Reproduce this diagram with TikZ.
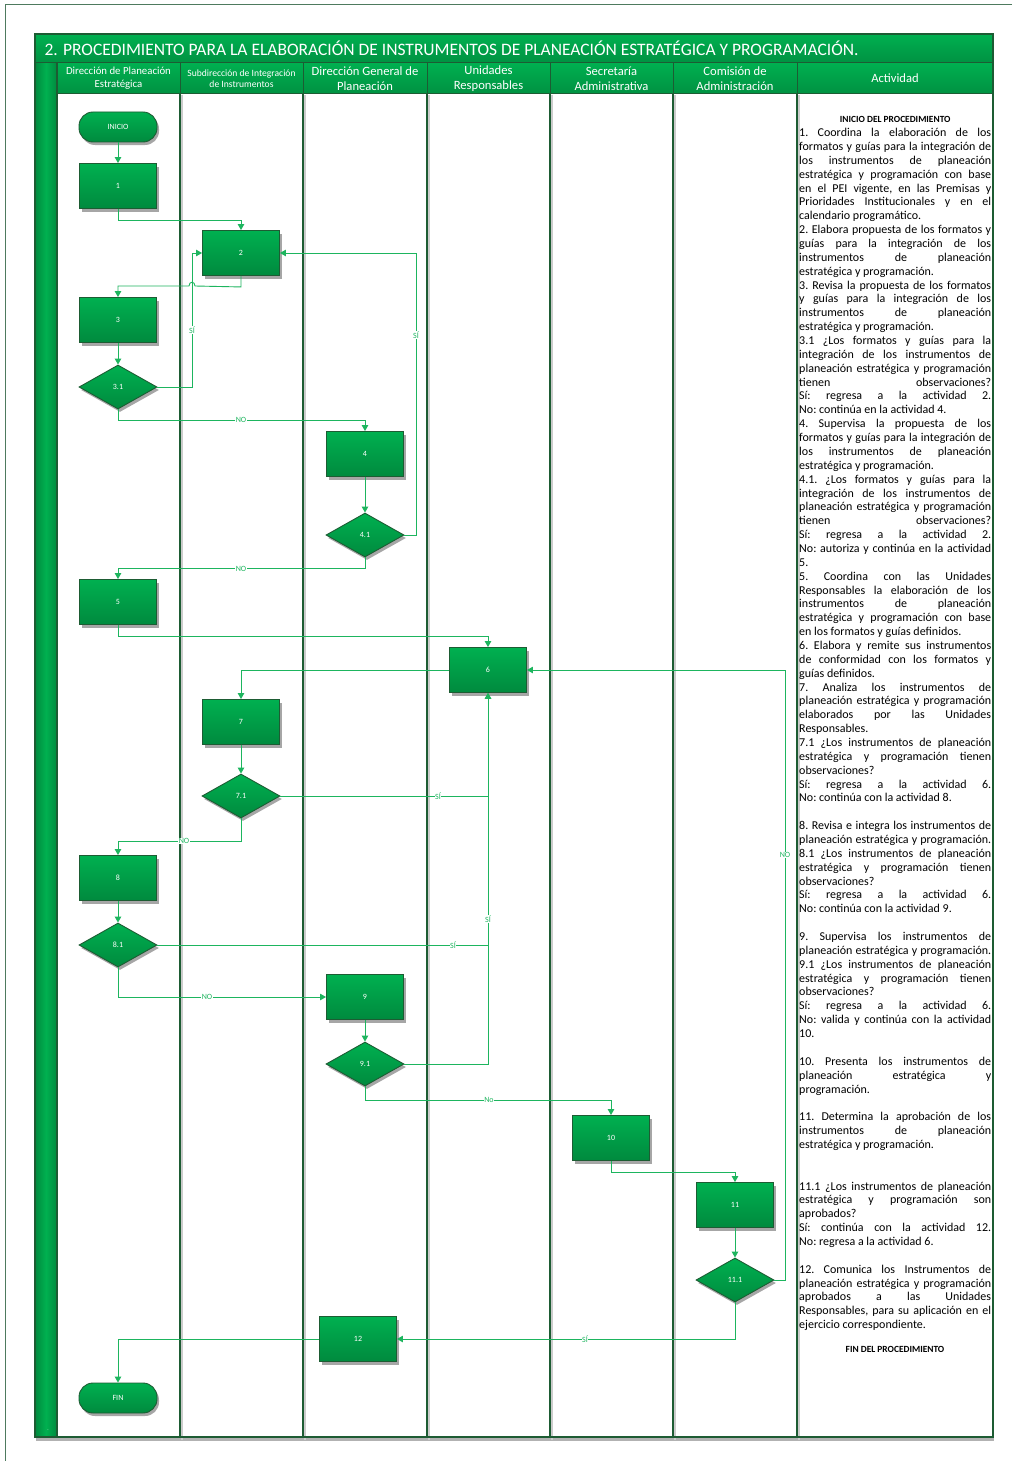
\documentclass[tikz,border=0pt]{standalone}
\usepackage{fontspec}
\usepackage{graphicx}
\setmainfont{Carlito}
\usetikzlibrary{arrows.meta,shapes.geometric,shadows,shadings,calc}
\definecolor{gfill}{HTML}{00B050}
\definecolor{gdark}{HTML}{008A3E}
\definecolor{gline}{HTML}{1D5C33}
\definecolor{gconn}{HTML}{1DB55E}
\definecolor{gframe}{HTML}{4E7A5E}
\newcommand\jl[1]{\hbox to 192pt{\frenchspacing\spaceskip=0.226em plus 1fill minus 0.07em\relax #1}}
\newcommand\rl[1]{\hbox{\frenchspacing #1}}
\tikzset{
  shp/.style={draw=gline, line width=0.9pt, top color=gfill, bottom color=gdark, text=white,
    inner sep=0pt, font=\fontsize{8}{8}\selectfont,
    drop shadow={shadow xshift=2pt, shadow yshift=-3pt, opacity=.35, fill=black}},
  actbox/.style={shp, rectangle, minimum width=77pt, minimum height=45pt},
  decbox/.style={shp, diamond, minimum width=78pt, minimum height=44pt},
  termbox/.style={shp, rectangle, rounded corners=14pt, minimum width=78pt, minimum height=30pt},
  flow/.style={draw=gconn, line width=0.9pt, -{Triangle[length=6pt,width=6.5pt]}},
  plainflow/.style={draw=gconn, line width=0.9pt},
  lbl/.style={fill=white, text=gconn, inner sep=0.6pt, font=\fontsize{8}{8}\selectfont},
  hdr/.style={top color=gfill, bottom color=gdark!80!gfill, draw=gline, line width=1pt},
  hdtext/.style={text=white, align=center},
  coll/.style={draw=gline, line width=1.5pt},
}
\begin{document}
\begin{tikzpicture}[x=1pt,y=-1pt]
\useasboundingbox (0,0) rectangle (1012,1461);
% page frame
\draw[gframe, line width=0.8pt] (1012,4) -- (5,4) -- (5,1461);
% table body
\path[fill=white, drop shadow={shadow xshift=1pt, shadow yshift=-4pt, opacity=.3, fill=black}] (35,34) rectangle (993,1437);
% title bar
\path[hdr] (35,34) rectangle (993,63);
\node[hdtext, anchor=west] (title) at (41,48.5) {\resizebox{814pt}{!}{\fontsize{16.5}{17}\selectfont 2. PROCEDIMIENTO PARA LA ELABORACIÓN DE INSTRUMENTOS DE PLANEACIÓN ESTRATÉGICA Y PROGRAMACIÓN.}};
% header cells
\foreach \xa/\xb in {57/180,180/303,303/427,427/550,550/673,673/797,797/993}
  \path[hdr] (\xa,63) rectangle (\xb,94);
% left bar
\path[left color=gdark, right color=gdark, middle color=gfill, draw=gline, line width=1pt] (35,63) rectangle (57,1437);
\node[text=white, font=\fontsize{4}{4}\selectfont] (dot) at (48,1431) {-};
% column lines
\foreach \xx in {180,303,427,550,673,797}
  \draw[black!20, line width=1.5pt] (\xx+2,95) -- (\xx+2,1440);
\foreach \xx in {180,303,427,550,673,797}
  \draw[coll] (\xx,94) -- (\xx,1437);
\draw[coll] (57,63) -- (57,1437);
\draw[coll] (35,34) rectangle (993,1437);
\draw[gline, line width=1pt] (57,94) -- (993,94);
% header texts
\node[hdtext, font=\fontsize{10.8}{13}\selectfont] (hd1) at (118.5,78) {Dirección de Planeación\\Estratégica};
\node[hdtext, font=\fontsize{9.6}{11}\selectfont] (hd2) at (241.5,78.5) {Subdirección de Integración\\de Instrumentos};
\node[hdtext, font=\fontsize{12.6}{15}\selectfont] (hd3) at (365,78.5) {Dirección General de\\Planeación};
\node[hdtext, font=\fontsize{12.6}{15}\selectfont] (hd4) at (488.5,78.5) {Unidades\\Responsables};
\node[hdtext, font=\fontsize{12.6}{15}\selectfont] (hd5) at (611.5,78.5) {Secretaría\\Administrativa};
\node[hdtext, font=\fontsize{12.6}{15}\selectfont] (hd6) at (735,78.5) {Comisión de\\Administración};
\node[hdtext, font=\fontsize{12.6}{15}\selectfont] (hd7) at (895,78) {Actividad};
% activity text
\node[anchor=base west, inner sep=0pt] (txt) at (799,122.8) {\begin{minipage}[t]{192pt}\fontsize{12}{13.86}\selectfont
\hbox to 192pt{\hfil\fontsize{9.4}{10}\selectfont\bfseries INICIO DEL PROCEDIMIENTO\hfil}
\jl{1. Coordina la elaboración de los}
\jl{formatos y guías para la integración de}
\jl{los instrumentos de planeación}
\jl{estratégica y programación con base}
\jl{en el PEI vigente, en las Premisas y}
\jl{Prioridades Institucionales y en el}
\rl{calendario programático.}
\jl{2. Elabora propuesta de los formatos y}
\jl{guías para la integración de los}
\jl{instrumentos de planeación}
\rl{estratégica y programación.}
\jl{3. Revisa la propuesta de los formatos}
\jl{y guías para la integración de los}
\jl{instrumentos de planeación}
\rl{estratégica y programación.}
\jl{3.1 ¿Los formatos y guías para la}
\jl{integración de los instrumentos de}
\jl{planeación estratégica y programación}
\jl{tienen observaciones?}
\jl{Sí: regresa a la actividad 2.}
\rl{No: continúa en la actividad 4.}
\jl{4. Supervisa la propuesta de los}
\jl{formatos y guías para la integración de}
\jl{los instrumentos de planeación}
\rl{estratégica y programación.}
\jl{4.1. ¿Los formatos y guías para la}
\jl{integración de los instrumentos de}
\jl{planeación estratégica y programación}
\jl{tienen observaciones?}
\jl{Sí: regresa a la actividad 2.}
\jl{No: autoriza y continúa en la actividad}
\rl{5.}
\jl{5. Coordina con las Unidades}
\jl{Responsables la elaboración de los}
\jl{instrumentos de planeación}
\jl{estratégica y programación con base}
\rl{en los formatos y guías definidos.}
\jl{6. Elabora y remite sus instrumentos}
\jl{de conformidad con los formatos y}
\rl{guías definidos.}
\jl{7. Analiza los instrumentos de}
\jl{planeación estratégica y programación}
\jl{elaborados por las Unidades}
\rl{Responsables.}
\jl{7.1 ¿Los instrumentos de planeación}
\jl{estratégica y programación tienen}
\rl{observaciones?}
\jl{Sí: regresa a la actividad 6.}
\rl{No: continúa con la actividad 8.}
\hbox{}
\jl{8. Revisa e integra los instrumentos de}
\jl{planeación estratégica y programación.}
\jl{8.1 ¿Los instrumentos de planeación}
\jl{estratégica y programación tienen}
\rl{observaciones?}
\jl{Sí: regresa a la actividad 6.}
\rl{No: continúa con la actividad 9.}
\hbox{}
\jl{9. Supervisa los instrumentos de}
\jl{planeación estratégica y programación.}
\jl{9.1 ¿Los instrumentos de planeación}
\jl{estratégica y programación tienen}
\rl{observaciones?}
\jl{Sí: regresa a la actividad 6.}
\jl{No: valida y continúa con la actividad}
\rl{10.}
\hbox{}
\jl{10. Presenta los instrumentos de}
\jl{planeación estratégica y}
\rl{programación.}
\hbox{}
\jl{11. Determina la aprobación de los}
\jl{instrumentos de planeación}
\rl{estratégica y programación.}
\hbox{}
\hbox{}
\jl{11.1 ¿Los instrumentos de planeación}
\jl{estratégica y programación son}
\rl{aprobados?}
\jl{Sí: continúa con la actividad 12.}
\rl{No: regresa a la actividad 6.}
\hbox{}
\jl{12. Comunica los Instrumentos de}
\jl{planeación estratégica y programación}
\jl{aprobados a las Unidades}
\jl{Responsables, para su aplicación en el}
\rl{ejercicio correspondiente.}
\end{minipage}};
\node[font=\fontsize{9.4}{10}\selectfont\bfseries] (finp) at (895,1349) {FIN DEL PROCEDIMIENTO};
% flow nodes
\node[termbox] (ini) at (118,127) {INICIO};
\node[actbox] (a1) at (118,186) {1};
\node[actbox] (a2) at (241,253) {2};
\node[actbox] (a3) at (118,320) {3};
\node[decbox] (d31) at (118,387) {3.1};
\node[actbox] (a4) at (365,454) {4};
\node[decbox] (d41) at (365,535) {4.1};
\node[actbox] (a5) at (118,602) {5};
\node[actbox] (a6) at (488,670) {6};
\node[actbox] (a7) at (241,722) {7};
\node[decbox] (d71) at (241,796) {7.1};
\node[actbox] (a8) at (118,878) {8};
\node[decbox] (d81) at (118,945) {8.1};
\node[actbox] (a9) at (365,997) {9};
\node[decbox] (d91) at (365,1064) {9.1};
\node[actbox] (a10) at (611,1138) {10};
\node[actbox] (a11) at (735,1205) {11};
\node[decbox] (d111) at (735,1280) {11.1};
\node[actbox] (a12) at (358,1339) {12};
\node[termbox] (fin) at (118,1398) {FIN};
% connectors
\draw[flow] (ini) -- (a1);
\draw[flow] (a1.south) -- ++(0,11) -| (a2.north);
\draw[flow] (a2.south) -- ++(0,11) -- (195,286) .. controls (195,281) and (189,281) .. (189,286) -| (a3.north);
\draw[flow] (a3) -- (d31);
\draw[flow] (d31.east) -- ++(35,0) |- (a2.west);
\draw[flow] (d31.south) -- ++(0,11) -| (a4.north);
\draw[flow] (a4) -- (d41);
\draw[flow] (d41.east) -- ++(12,0) |- (a2.east);
\draw[flow] (d41.south) -- ++(0,11) -| (a5.north);
\draw[flow] (a5.south) -- ++(0,11) -| (a6.north);
\draw[flow] (a6.west) -| (a7.north);
\draw[flow] (a7) -- (d71);
\draw[flow] (d71.east) -| (a6.south);
\draw[flow] (d71.south) -- ++(0,23) -| (a8.north);
\draw[flow] (a8) -- (d81);
\draw[plainflow] (d81.east) -- (a6.south |- d81.east);
\draw[flow] (d81.south) |- (a9.west);
\draw[flow] (a9) -- (d91);
\draw[flow] (d91.east) -| (a6.south);
\draw[flow] (d91.south) -- ++(0,14) -| (a10.north);
\draw[flow] (a10.south) -- ++(0,11) -| (a11.north);
\draw[flow] (a11) -- (d111);
\draw[flow] (d111.east) -- ++(11,0) |- (a6.east);
\draw[flow] (d111.south) |- (a12.east);
\draw[flow] (a12.west) -| (fin.north);
% connector labels
\node[lbl] (l1) at (192,330) {SÍ};
\node[lbl] (l2) at (416,335) {SÍ};
\node[lbl] (l3) at (241,420) {NO};
\node[lbl] (l4) at (241,569) {NO};
\node[lbl] (l5) at (438,796) {SÍ};
\node[lbl] (l6) at (184,841) {NO};
\node[lbl] (l7) at (453,945) {SÍ};
\node[lbl] (l8) at (207,997) {NO};
\node[lbl] (l9) at (488,919) {SÍ};
\node[lbl] (l10) at (489,1100) {No};
\node[lbl] (l11) at (785,855) {NO};
\node[lbl] (l12) at (585,1339) {SÍ};
\end{tikzpicture}
\end{document}
